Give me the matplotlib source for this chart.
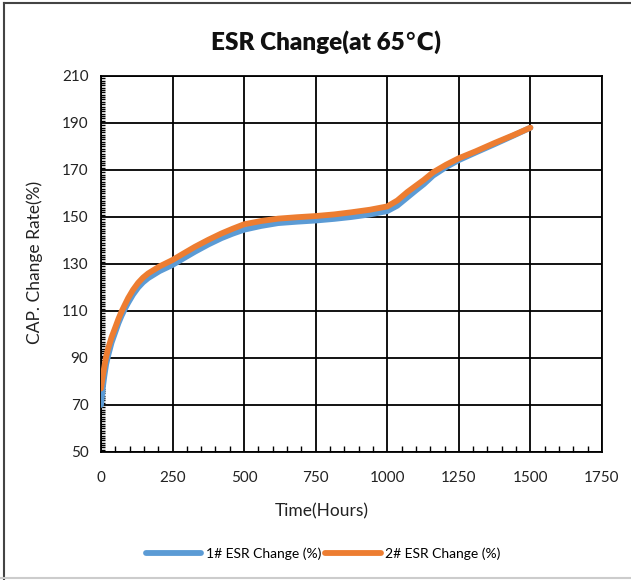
import matplotlib
matplotlib.use("Agg")
import matplotlib.pyplot as plt
from matplotlib.lines import Line2D
from matplotlib.ticker import MultipleLocator

plt.rcParams['font.family'] = ['Lato', 'DejaVu Sans']

hours = [0, 6, 12, 18, 25, 37, 50, 61, 72, 84, 95, 112, 130, 147, 165, 205, 250, 290, 328, 375, 421, 460, 500,
         560, 619, 685, 750, 815, 875, 940, 1000, 1035, 1070, 1100, 1128, 1160, 1205, 1250, 1310, 1375, 1440, 1500]
esr_1 = [70, 77, 82.5, 87.3, 91, 96.5, 101, 104.8, 108, 111, 113.5, 117, 120, 122.2, 124, 127, 129.6, 132.5, 135.2, 138.3, 141, 142.9, 144.6,
         146.2, 147.4, 148, 148.5, 149.2, 150, 151.1, 152.5, 154.8, 158.3, 161.3, 164, 167.6, 171.2, 174.2, 177.5, 181, 184.6, 188]
esr_2 = [77, 82, 86.5, 90.5, 94, 98.8, 103, 106.6, 109.8, 112.8, 115.5, 119, 122, 124.2, 126, 129, 131.7, 134.6, 137.3, 140.3, 143, 145, 146.9,
         148.3, 149.3, 149.9, 150.4, 151.1, 152, 153.1, 154.5, 157, 160.6, 163.3, 165.8, 169, 172.2, 175, 178, 181.5, 184.8, 188]

blue = '#5B9BD5'
orange = '#ED7D31'

fig = plt.figure(figsize=(6.31, 5.80), dpi=100)
ax = fig.add_axes([0.160, 0.2207, 0.794, 0.6483])

ax.plot(hours, esr_1, color=blue, lw=4.2, solid_capstyle='round', solid_joinstyle='round',
        label='1# ESR Change (%)', zorder=3)
ax.plot(hours, esr_2, color=orange, lw=4.2, solid_capstyle='round', solid_joinstyle='round',
        label='2# ESR Change (%)', zorder=4)

ax.set_xlim(0, 1750)
ax.set_ylim(50, 210)
ax.set_xticks(range(0, 1751, 250))
ax.set_yticks(range(50, 211, 20))
ax.xaxis.set_minor_locator(MultipleLocator(50))
ax.yaxis.set_minor_locator(MultipleLocator(1))
ax.grid(True, which='major', color='black', lw=1.3)
ax.set_axisbelow(True)
for s in ax.spines.values():
    s.set_color('black')
    s.set_linewidth(1.3)
ax.tick_params(which='major', length=0, labelsize=11, colors='#222222')
ax.tick_params(axis='y', which='major', pad=9)
ax.tick_params(axis='x', which='major', pad=14)
ax.tick_params(which='minor', direction='in', length=3, width=1, color='black')
ax.tick_params(axis='x', which='minor', length=4)

fig.text(0.517, 0.928, 'ESR Change(at 65℃)', fontsize=17.5, fontweight='heavy',
         ha='center', va='center', color='#111111')
ax.set_xlabel('Time(Hours)', fontsize=12.5, color='#222222')
ax.xaxis.set_label_coords((322 - 101) / 501, -0.137)
ax.set_ylabel('CAP. Change Rate(%)', fontsize=12.5, color='#222222')
ax.yaxis.set_label_coords(-0.116, 0.505)

fig.legend(loc='center', bbox_to_anchor=(0.512, 0.046), ncol=2, frameon=False,
           fontsize=10, handlelength=4.0, handletextpad=0.3, columnspacing=0.3)

fig.add_artist(Line2D([0.0065, 0.0065], [0.0, 0.995], color='#444444', lw=1.5, transform=fig.transFigure))
fig.add_artist(Line2D([0.0065, 1.0], [0.995, 0.995], color='#444444', lw=1.5, transform=fig.transFigure))
fig.add_artist(Line2D([0.0, 1.0], [0.004, 0.004], color='#cccccc', lw=1.5, transform=fig.transFigure))

fig.savefig('out.png', dpi=100)
